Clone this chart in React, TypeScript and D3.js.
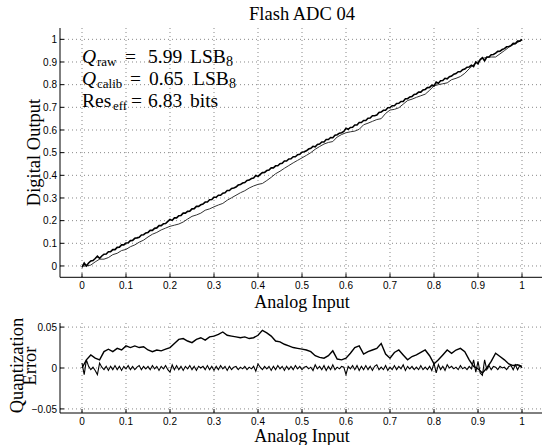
import React from "react";
import * as d3 from "d3";

// x positions sampled across the analog input range
const xTicks = [0, 0.1, 0.2, 0.3, 0.4, 0.5, 0.6, 0.7, 0.8, 0.9, 1];
const xTickLabels = ["0", "0.1", "0.2", "0.3", "0.4", "0.5", "0.6", "0.7", "0.8", "0.9", "1"];
const yTopTicks = [0, 0.1, 0.2, 0.3, 0.4, 0.5, 0.6, 0.7, 0.8, 0.9, 1];
const yTopTickLabels = ["0", "0.1", "0.2", "0.3", "0.4", "0.5", "0.6", "0.7", "0.8", "0.9", "1"];
const yBotTicks = [-0.05, 0, 0.05];
const yBotTickLabels = ["\u22120.05", "0", "0.05"];

// raw quantization error, sampled every 0.01
const rawError = [
  0.000, 0.010, 0.016, 0.012, 0.010, 0.020, 0.023, 0.020, 0.024, 0.022,
  0.027, 0.025, 0.027, 0.025, 0.026, 0.022, 0.020, 0.022, 0.021, 0.023,
  0.025, 0.030, 0.035, 0.036, 0.033, 0.031, 0.035, 0.037, 0.034, 0.038,
  0.039, 0.041, 0.044, 0.040, 0.039, 0.038, 0.037, 0.038, 0.036, 0.037,
  0.040, 0.046, 0.043, 0.039, 0.033, 0.032, 0.029, 0.027, 0.025, 0.024,
  0.023, 0.022, 0.020, 0.015, 0.013, 0.012, 0.015, 0.021, 0.011, 0.010,
  0.012, 0.018, 0.025, 0.027, 0.017, 0.020, 0.022, 0.024, 0.030, 0.017,
  0.012, 0.019, 0.022, 0.016, 0.010, 0.014, 0.016, 0.019, 0.022, 0.015,
  0.005, 0.010, 0.016, 0.022, 0.018, 0.022, 0.024, 0.020, 0.010, 0.002,
  -0.001, -0.006, 0.000, 0.008, 0.018, 0.014, 0.010, 0.005, 0.003, 0.004,
  0.002,
];

// calibrated quantization error, sampled every 0.005
const calibError = [
  0.006, -0.008, 0.010, 0.002, -0.002, 0.001, -0.003, -0.008, 0.006, 0.001,
  -0.002, 0.002, -0.003, 0.002, -0.002, 0.003, -0.002, 0.002, -0.003, 0.002,
  -0.001, 0.003, -0.002, 0.002, -0.002, 0.001, 0.003, -0.002, 0.002, -0.001,
  0.002, -0.002, 0.003, -0.001, 0.002, -0.003, 0.002, -0.001, 0.003, -0.002,
  -0.005, 0.004, -0.002, 0.003, -0.002, 0.002, -0.003, 0.002, -0.001, 0.003,
  -0.002, 0.002, -0.003, 0.002, 0.000, 0.002, -0.002, 0.003, -0.002, 0.002,
  -0.003, 0.002, -0.002, 0.003, -0.001, 0.002, -0.003, 0.002, -0.002, 0.001,
  0.002, -0.002, 0.001, -0.001, 0.002, -0.002, 0.001, -0.001, 0.002, -0.004,
  0.005, 0.001, -0.002, 0.002, -0.001, 0.002, -0.003, 0.002, -0.002, 0.003,
  -0.001, 0.002, -0.003, 0.002, -0.002, 0.002, -0.002, 0.003, -0.001, 0.002,
  -0.002, 0.001, 0.002, -0.001, 0.001, -0.003, 0.004, -0.001, 0.002, -0.002,
  0.003, -0.003, 0.002, -0.002, 0.004, -0.002, 0.001, -0.001, 0.002, 0.001,
  -0.008, 0.002, -0.001, 0.003, -0.002, 0.003, -0.003, 0.002, -0.002, 0.003,
  -0.002, 0.002, -0.003, 0.002, 0.004, -0.002, 0.001, -0.002, 0.003, -0.003,
  0.001, -0.002, 0.003, -0.002, 0.002, -0.001, 0.004, -0.003, 0.002, -0.001,
  0.002, -0.002, 0.001, -0.002, 0.003, -0.002, 0.001, -0.002, 0.002, -0.003,
  0.006, -0.006, 0.004, -0.002, 0.002, -0.003, 0.004, 0.000, 0.002, -0.001,
  0.001, -0.002, 0.003, -0.001, 0.001, -0.002, 0.002, -0.001, 0.010, -0.005,
  0.008, -0.006, -0.009, 0.010, -0.002, 0.003, -0.002, 0.002, 0.001, -0.002,
  0.002, 0.000, 0.001, -0.002, 0.002, 0.003, -0.002, 0.004, -0.002, 0.003,
  0.000,
];

const titleText = "Flash ADC 04";
const xLabel = "Analog Input";
const yTopLabel = "Digital Output";
const yBotLabel = ["Quantization", "Error"];

const serif = "'Liberation Serif', 'DejaVu Serif', serif";
const sans = "'Liberation Sans', Arial, sans-serif";

export default function App() {
  const W = 542, H = 445;
  const x = d3.scaleLinear().domain([-0.05, 1.05]).range([60, 544]);
  const yTop = d3.scaleLinear().domain([-0.05, 1.05]).range([277.3, 28]);
  const yBot = d3.scaleLinear().domain([-0.055, 0.055]).range([413, 323]);

  const rawPts = rawError.map((e, i) => [i * 0.01, e] as [number, number]);
  const calPts = calibError.map((e, i) => [i * 0.005, e] as [number, number]);

  const lineTop = d3.line<[number, number]>().x(d => x(d[0])).y(d => yTop(d[0] - d[1]));
  const lineBot = d3.line<[number, number]>().x(d => x(d[0])).y(d => yBot(d[1]));

  const axL = x(-0.05);
  const gridStyle = { stroke: "#555", strokeWidth: 0.7, strokeDasharray: "1 3" };

  const renderAxes = (y: d3.ScaleLinear<number, number>, yTicks: number[], yLabels: string[], top: number, bottom: number) => (
    <g>
      {xTicks.map(t => (
        <line key={"gx" + t} x1={x(t)} x2={x(t)} y1={top} y2={bottom} {...gridStyle} />
      ))}
      {yTicks.map(t => (
        <line key={"gy" + t} x1={axL} x2={W} y1={y(t)} y2={y(t)} {...gridStyle} />
      ))}
      <line x1={axL} x2={axL} y1={top} y2={bottom} stroke="#000" strokeWidth={1} />
      <line x1={axL} x2={W} y1={bottom} y2={bottom} stroke="#000" strokeWidth={1} />
      {xTicks.map((t, i) => (
        <g key={"tx" + t}>
          <line x1={x(t)} x2={x(t)} y1={bottom} y2={bottom - 4} stroke="#000" />
          <text x={x(t)} y={bottom + 12} textAnchor="middle" fontFamily={sans} fontSize={10}>{xTickLabels[i]}</text>
        </g>
      ))}
      {yTicks.map((t, i) => (
        <g key={"ty" + t}>
          <line x1={axL} x2={axL + 4} y1={y(t)} y2={y(t)} stroke="#000" />
          <text x={57} y={y(t) + 3.6} textAnchor="end" fontFamily={sans} fontSize={10}>{yLabels[i]}</text>
        </g>
      ))}
    </g>
  );

  const sub = 13;
  return (
    <svg width={W} height={H} style={{ position: "absolute", left: 0, top: 0, background: "#fff" }}>
      <rect width={W} height={H} fill="#fff" />
      {renderAxes(yTop, yTopTicks, yTopTickLabels, 28, 277.3)}
      <path d={lineTop(rawPts) || ""} fill="none" stroke="#333" strokeWidth={1} />
      <path d={lineTop(calPts) || ""} fill="none" stroke="#000" strokeWidth={1.6} />
      <text x={302} y={20} textAnchor="middle" fontFamily={serif} fontSize={18.5}>{titleText}</text>
      <text x={302} y={307.5} textAnchor="middle" fontFamily={serif} fontSize={18}>{xLabel}</text>
      <text transform="translate(40,152.5) rotate(-90)" textAnchor="middle" fontFamily={serif} fontSize={18.5}>{yTopLabel}</text>

      <g fontFamily={serif} fontSize={19.5}>
        <text x={82} y={63} fontStyle="italic">Q</text>
        <text x={97} y={66} fontSize={sub}>raw</text>
        <text x={125} y={63}>=</text>
        <text x={148} y={63}>5.99</text>
        <text x={190} y={63}>LSB</text>
        <text x={226} y={66} fontSize={sub + 1}>8</text>

        <text x={82} y={85} fontStyle="italic">Q</text>
        <text x={97} y={88} fontSize={sub}>calib</text>
        <text x={130} y={85}>=</text>
        <text x={149} y={85}>0.65</text>
        <text x={193} y={85}>LSB</text>
        <text x={229} y={88} fontSize={sub + 1}>8</text>

        <text x={82} y={107}>Res</text>
        <text x={113} y={110} fontSize={sub}>eff</text>
        <text x={131} y={107}>=</text>
        <text x={148} y={107}>6.83</text>
        <text x={190} y={107}>bits</text>
      </g>

      {renderAxes(yBot, yBotTicks, yBotTickLabels, 323, 413)}
      <path d={lineBot(rawPts) || ""} fill="none" stroke="#000" strokeWidth={1.4} />
      <path d={lineBot(calPts) || ""} fill="none" stroke="#000" strokeWidth={1.1} />
      <text x={302} y={442} textAnchor="middle" fontFamily={serif} fontSize={18}>{xLabel}</text>
      <text transform="translate(23,365.5) rotate(-90)" textAnchor="middle" fontFamily={serif} fontSize={18.5}>{yBotLabel[0]}</text>
      <text transform="translate(36,366) rotate(-90)" textAnchor="middle" fontFamily={serif} fontSize={18.5}>{yBotLabel[1]}</text>
    </svg>
  );
}
